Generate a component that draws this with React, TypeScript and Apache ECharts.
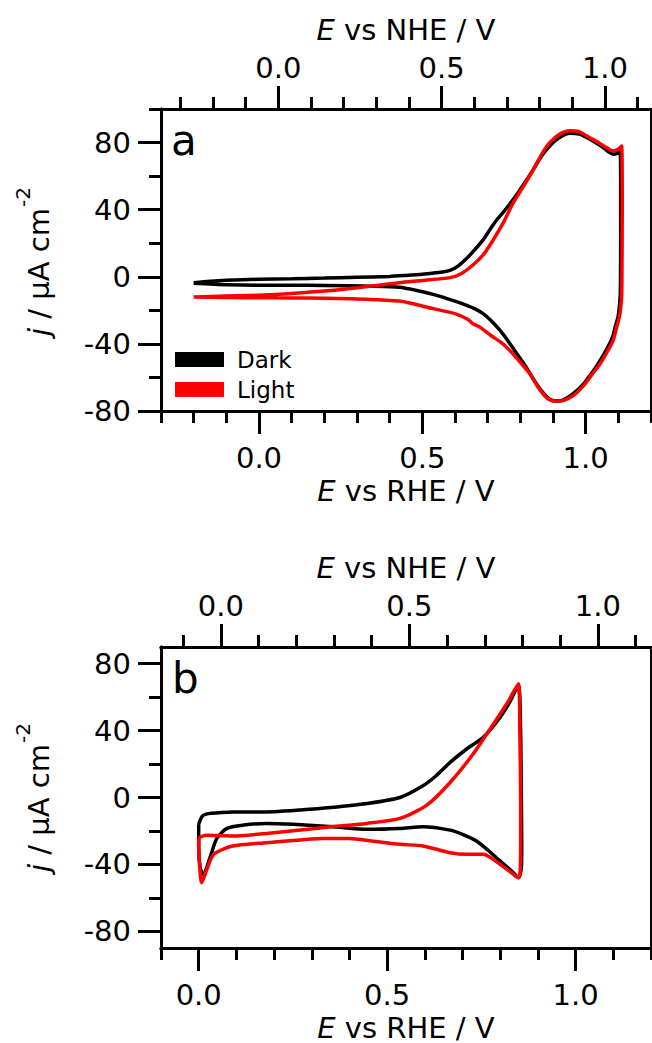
import React, { useEffect, useRef } from "react";
import * as echarts from "echarts";

const FONT = "DejaVu Sans";

// ---------- Panel a (E vs RHE / V, j / µA cm-2) ----------
const aDarkE = [-0.2, -0.15, -0.1, 0.0, 0.1, 0.2, 0.3, 0.4, 0.45, 0.5, 0.55, 0.585, 0.61, 0.636, 0.66, 0.686, 0.71, 0.728, 0.75, 0.778, 0.81, 0.84, 0.865, 0.89, 0.92, 0.952, 0.98, 1.003, 1.03, 1.054, 1.07, 1.084, 1.095, 1.105, 1.107, 1.107, 1.106, 1.103, 1.099, 1.09, 1.084, 1.065, 1.044, 1.02, 0.993, 0.96, 0.93, 0.91, 0.89, 0.865, 0.84, 0.815, 0.79, 0.765, 0.738, 0.71, 0.686, 0.66, 0.636, 0.6, 0.533, 0.48, 0.43, 0.35, 0.2, 0.1, 0.0, -0.1, -0.2];
const aDarkJ = [-3.5, -2.6, -2.0, -1.5, -1.2, -0.8, -0.3, 0.2, 0.8, 1.5, 2.5, 3.8, 6.5, 11, 16, 22, 29, 34, 39, 46, 55, 64, 72, 78, 83, 85.5, 85, 83, 80, 77, 74.5, 73, 73.5, 75.5, 60, 20, -10, -18, -24, -30, -35, -43, -50, -57, -64, -70, -73.5, -74, -73, -68, -61, -53, -46, -39, -32, -26, -22, -19, -17, -14.5, -10.5, -8, -6.2, -5.6, -5.2, -5, -5, -4.7, -3.8];
const aLightE = [-0.2, -0.1, 0.0, 0.1, 0.2, 0.3, 0.43, 0.5, 0.585, 0.62, 0.655, 0.69, 0.717, 0.75, 0.778, 0.81, 0.84, 0.865, 0.89, 0.92, 0.952, 0.98, 1.003, 1.03, 1.064, 1.084, 1.1, 1.11, 1.112, 1.111, 1.11, 1.105, 1.095, 1.084, 1.065, 1.044, 1.02, 0.993, 0.96, 0.92, 0.9, 0.88, 0.855, 0.83, 0.8, 0.768, 0.74, 0.71, 0.676, 0.655, 0.64, 0.6, 0.533, 0.43, 0.3, 0.2, 0.1, 0.0, -0.1, -0.2];
const aLightJ = [-12, -11.5, -11, -10, -8.5, -6.5, -3.5, -2.2, -0.5, 2, 7, 14, 22, 33, 44, 54, 64, 73, 80, 85, 87, 86.5, 84, 81, 77, 75, 76, 78, 40, 0, -12, -22, -30, -38, -45, -52, -58, -65, -71, -74, -74, -72, -66, -58, -51, -44, -39, -35, -30, -28, -25.5, -22, -19, -14.5, -13.2, -12.8, -12.6, -12.5, -12.4, -12];

// ---------- Panel b ----------
const bDarkE = [0.0, 0.01, 0.03, 0.06, 0.09, 0.2, 0.27, 0.35, 0.446, 0.534, 0.595, 0.63, 0.667, 0.711, 0.755, 0.8, 0.825, 0.848, 0.854, 0.856, 0.857, 0.856, 0.849, 0.835, 0.8, 0.77, 0.737, 0.7, 0.667, 0.595, 0.534, 0.446, 0.357, 0.25, 0.18, 0.12, 0.075, 0.048, 0.03, 0.012, 0.004, 0.0, 0.0];
const bDarkJ = [-16, -11, -9.5, -9, -8.7, -8.5, -7.5, -6, -3.6, 0, 7, 13, 21, 29, 36, 48, 57, 67, 40, 0, -30, -42, -48, -45, -38, -32, -26, -22, -19.5, -17.5, -18.5, -19, -17.5, -16, -15.5, -16.5, -18.5, -24.5, -36, -46, -42, -30, -16];
const bLightE = [0.0, 0.02, 0.09, 0.18, 0.27, 0.35, 0.446, 0.534, 0.605, 0.667, 0.728, 0.782, 0.82, 0.848, 0.852, 0.854, 0.854, 0.853, 0.848, 0.83, 0.8, 0.775, 0.755, 0.711, 0.667, 0.595, 0.534, 0.46, 0.4, 0.33, 0.27, 0.18, 0.09, 0.04, 0.02, 0.008, 0.002, 0.0, 0.0];
const bLightJ = [-24, -22.5, -23, -21.5, -19.5, -17.5, -15.5, -12.5, -4.6, 9, 26, 44, 57, 68, 40, 0, -30, -44, -48, -45, -40, -36, -34, -34, -33, -29, -28, -26, -24.5, -24.5, -25.4, -27, -29, -34, -44, -51, -40, -30, -24];

// ---------- Axes ----------
const nheOffset = 0.059; // E(NHE) = E(RHE) - 0.059 V
const aRheRange = [-0.3, 1.2];
const bRheRange = [-0.1, 1.2];
const aJRange = [-80, 100];
const bJRange = [-90, 90];
const eMajor = [0, 0.5, 1.0];
const aRheMinor = [-0.3, -0.2, -0.1, 0.1, 0.2, 0.3, 0.4, 0.6, 0.7, 0.8, 0.9, 1.1, 1.2];
const aNheMinor = [-0.3, -0.2, -0.1, 0.1, 0.2, 0.3, 0.4, 0.6, 0.7, 0.8, 0.9, 1.1];
const bRheMinor = [-0.1, 0.1, 0.2, 0.3, 0.4, 0.6, 0.7, 0.8, 0.9, 1.1, 1.2];
const bNheMinor = [-0.1, 0.1, 0.2, 0.3, 0.4, 0.6, 0.7, 0.8, 0.9, 1.1];
const jMajor = [-80, -40, 0, 40, 80];
const aJMinor = [-60, -20, 20, 60, 100];
const bJMinor = [-60, -20, 20, 60];

const zip = (xs: number[], ys: number[]) => xs.map((x, i) => [x, ys[i]]);

const lineStyle = { color: "#000", width: 3 };
const nameRich = {
  i: { fontFamily: FONT, fontSize: 29, fontStyle: "italic", color: "#000" },
  n: { fontFamily: FONT, fontSize: 29, color: "#000" },
};

function xAx(gridIndex: number, position: string, min: number, max: number, ticks: number[], len: number, labels?: number[], name?: string) {
  return {
    type: "value",
    gridIndex,
    position,
    min,
    max,
    axisLine: { show: true, onZero: false, lineStyle },
    axisTick: { show: true, inside: false, length: len, lineStyle, customValues: ticks },
    axisLabel: labels
      ? { show: true, customValues: labels, formatter: (v: number) => v.toFixed(1), fontSize: 29, fontFamily: FONT, color: "#000", margin: position === "bottom" ? 32 : 27 }
      : { show: false },
    splitLine: { show: false },
    name: name || "",
    nameLocation: "middle",
    nameGap: 65,
    nameTextStyle: { rich: nameRich },
  };
}

function yAx(gridIndex: number, position: string, min: number, max: number, ticks: number[] | null, len: number, labels?: number[], lw = 3) {
  return {
    type: "value",
    gridIndex,
    position,
    min,
    max,
    axisLine: { show: true, onZero: false, lineStyle: { color: "#000", width: lw } },
    axisTick: ticks ? { show: true, inside: false, length: len, lineStyle, customValues: ticks } : { show: false },
    axisLabel: labels
      ? { show: true, customValues: labels, fontSize: 29, fontFamily: FONT, color: "#000", margin: 30 }
      : { show: false },
    splitLine: { show: false },
  };
}

const rheName = "{i|E}{n| vs RHE / V}";
const nheName = "{i|E}{n| vs NHE / V}";
const jMain = "{i|j}{n| / μA cm}";
const jSup = "-2";

function yTitle(cx: number, cy: number) {
  return {
    type: "group",
    x: cx,
    y: cy,
    rotation: Math.PI / 2,
    children: [
      {
        type: "text",
        x: -74,
        y: 0,
        style: { text: jMain, rich: nameRich, align: "left", verticalAlign: "middle", fill: "#000" },
      },
      {
        type: "text",
        x: 55,
        y: -16,
        style: { text: jSup, fontFamily: FONT, fontSize: 20, align: "left", verticalAlign: "middle", fill: "#000" },
      },
    ],
  };
}

function buildOption() {
  const xAxis = [
    xAx(0, "bottom", aRheRange[0], aRheRange[1], eMajor, 23, eMajor, rheName),
    xAx(0, "bottom", aRheRange[0], aRheRange[1], aRheMinor, 12),
    xAx(0, "top", aRheRange[0] - nheOffset, aRheRange[1] - nheOffset, eMajor, 23, eMajor, nheName),
    xAx(0, "top", aRheRange[0] - nheOffset, aRheRange[1] - nheOffset, aNheMinor, 12),
    xAx(1, "bottom", bRheRange[0], bRheRange[1], eMajor, 23, eMajor, rheName),
    xAx(1, "bottom", bRheRange[0], bRheRange[1], bRheMinor, 12),
    xAx(1, "top", bRheRange[0] - nheOffset, bRheRange[1] - nheOffset, eMajor, 23, eMajor, nheName),
    xAx(1, "top", bRheRange[0] - nheOffset, bRheRange[1] - nheOffset, bNheMinor, 12),
  ];
  const yAxis = [
    yAx(0, "left", aJRange[0], aJRange[1], jMajor, 23, jMajor),
    yAx(0, "left", aJRange[0], aJRange[1], aJMinor, 12),
    yAx(0, "right", aJRange[0], aJRange[1], null, 0, undefined, 2),
    yAx(1, "left", bJRange[0], bJRange[1], jMajor, 23, jMajor),
    yAx(1, "left", bJRange[0], bJRange[1], bJMinor, 12),
    yAx(1, "right", bJRange[0], bJRange[1], null, 0, undefined, 2),
  ];
  const mk = (name: string, color: string, xi: number, yi: number, data: number[][]) => ({
    type: "line",
    name,
    xAxisIndex: xi,
    yAxisIndex: yi,
    data,
    symbol: "none",
    showSymbol: false,
    smooth: 0.25,
    lineStyle: { color, width: 3.5 },
    itemStyle: { color },
    z: color === "#000" ? 2 : 3,
  });
  return {
    animation: false,
    backgroundColor: "#fff",
    grid: [
      { left: 161, top: 109, width: 490, height: 302 },
      { left: 161, top: 647, width: 490, height: 302 },
    ],
    xAxis,
    yAxis,
    legend: {
      data: ["Dark", "Light"],
      orient: "vertical",
      left: 175,
      top: 348,
      padding: 0,
      itemWidth: 49,
      itemHeight: 15,
      itemGap: 7,
      icon: "rect",
      selectedMode: false,
      textStyle: { fontSize: 23, fontFamily: FONT, color: "#000", padding: [0, 0, 0, 8] },
    },
    title: [
      { text: "a", left: 171, top: 119, padding: 0, textStyle: { fontSize: 42, fontWeight: "normal", fontFamily: FONT, color: "#000" } },
      { text: "b", left: 172, top: 657, padding: 0, textStyle: { fontSize: 42, fontWeight: "normal", fontFamily: FONT, color: "#000" } },
    ],
    graphic: [yTitle(39, 262), yTitle(39, 798)],
    series: [
      mk("Dark", "#000", 0, 0, zip(aDarkE, aDarkJ)),
      mk("Light", "#ff0000", 0, 0, zip(aLightE, aLightJ)),
      mk("Dark", "#000", 4, 3, zip(bDarkE, bDarkJ)),
      mk("Light", "#ff0000", 4, 3, zip(bLightE, bLightJ)),
    ],
  };
}

export default function App() {
  const ref = useRef<HTMLDivElement>(null);
  useEffect(() => {
    document.body.style.margin = "0";
    if (!ref.current) return;
    const chart = echarts.init(ref.current, null, { renderer: "svg" });
    chart.setOption(buildOption() as any);
    return () => chart.dispose();
  }, []);
  return <div ref={ref} style={{ width: 652, height: 1043 }} />;
}
